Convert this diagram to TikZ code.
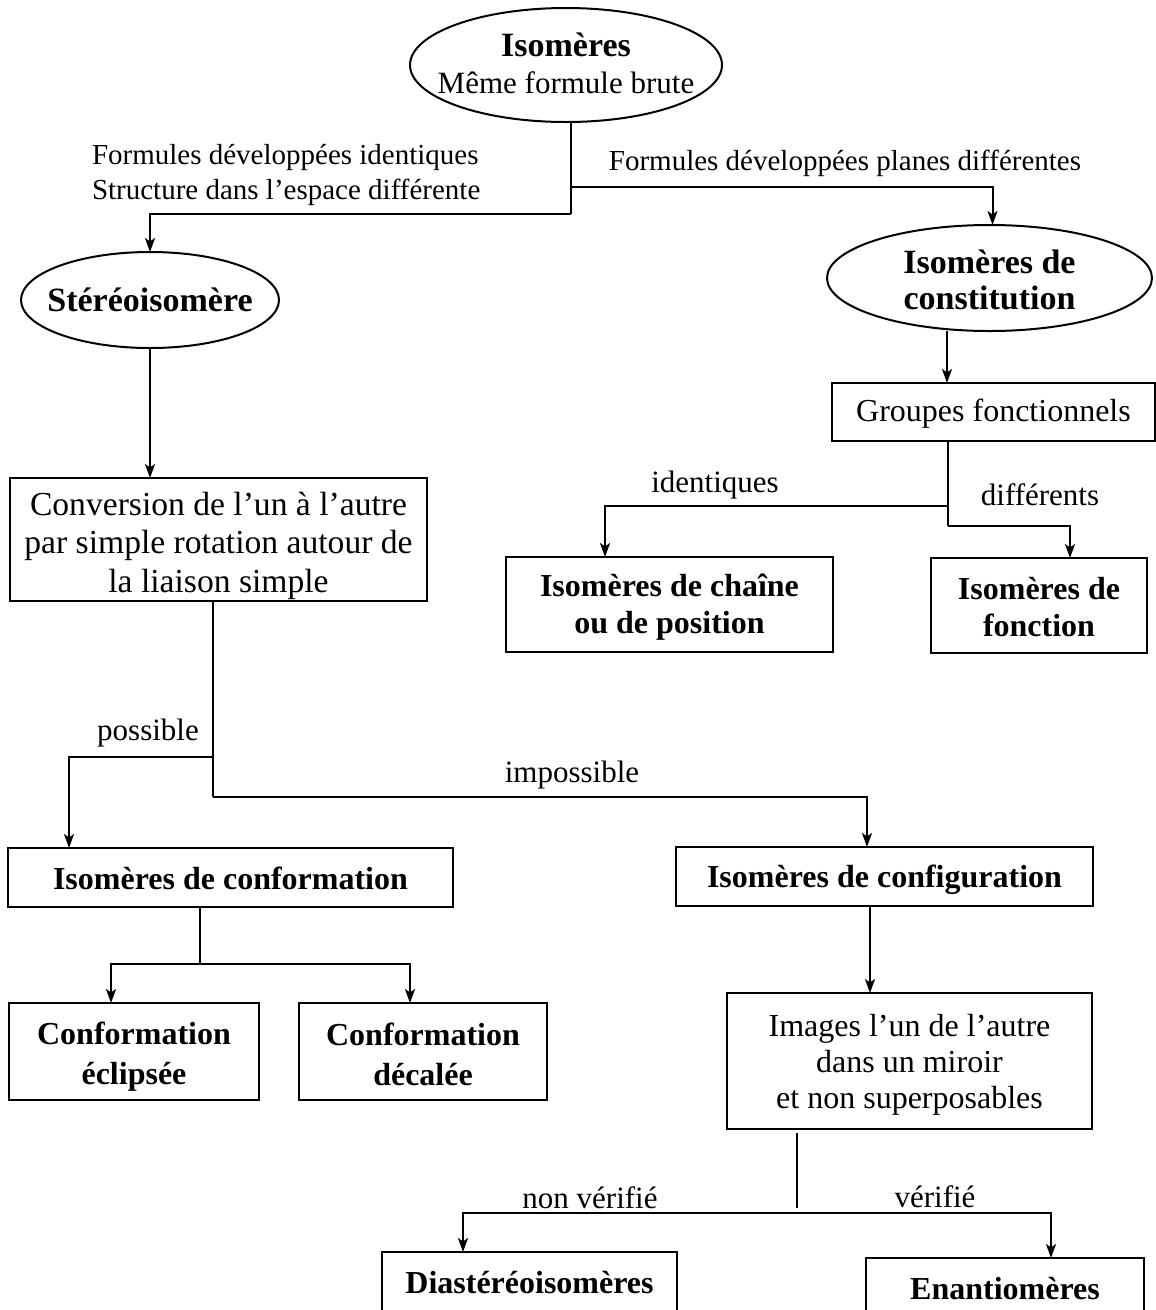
\documentclass[tikz,border=0pt]{standalone}
\usepackage{fontspec}
\setmainfont{Liberation Serif}
\usetikzlibrary{shapes.geometric,arrows.meta}
\begin{document}
\begin{tikzpicture}[x=1pt,y=-1pt,
  every node/.style={inner sep=0pt, outer sep=0pt},
  box/.style={draw, line width=2pt, rectangle},
  ell/.style={draw, line width=2pt, ellipse},
  conn/.style={line width=2pt},
  arr/.style={line width=2pt, -{Stealth[length=14pt,width=10pt,inset=3.5pt]}},
  toplab/.style={font=\fontsize{29}{35}\selectfont},
  lab/.style={font=\fontsize{31}{36}\selectfont},
  reg/.style={align=center, font=\fontsize{32}{37}\selectfont},
  bld/.style={align=center, font=\fontsize{32}{37}\selectfont\bfseries},
  ebld/.style={align=center, font=\fontsize{34}{36}\selectfont\bfseries}
]
\useasboundingbox (0,0) rectangle (1156,1310);
\clip (0,0) rectangle (1156,1310);

% ellipses
\node[ell, minimum width=312pt, minimum height=114pt] (iso) at (566,65) {};
\node[align=center, font=\fontsize{31}{37}\selectfont, yshift=2pt] (isot) at (iso.center) {{\fontsize{34}{37}\selectfont\bfseries Isomères}\\Même formule brute};
\node[ell, minimum width=258pt, minimum height=96pt] (stereo) at (150,300) {};
\node[ebld] (stereot) at (stereo.center) {Stéréoisomère};
\node[ell, minimum width=325pt, minimum height=106pt] (const) at (989.5,278) {};
\node[ebld, yshift=-2pt] (constt) at (const.center) {Isomères de\\constitution};

% boxes
\node[box, minimum width=417pt, minimum height=123pt] (conv) at (218.5,539.5) {};
\node[reg, font=\fontsize{33.6}{38.5}\selectfont, yshift=-6pt] (convt) at (conv.center) {Conversion de l’un à l’autre\\par simple rotation autour de\\la liaison simple};
\node[box, minimum width=323pt, minimum height=58pt] (gf) at (993.5,412) {};
\node[reg, yshift=-2pt] (gft) at (gf.center) {Groupes fonctionnels};
\node[box, minimum width=327pt, minimum height=95pt] (chaine) at (669.5,604.5) {};
\node[bld, yshift=-3pt] (chainet) at (chaine.center) {Isomères de chaîne\\ou de position};
\node[box, minimum width=216pt, minimum height=95pt] (fonction) at (1039,605.5) {};
\node[bld, yshift=-2pt] (fonctiont) at (fonction.center) {Isomères de\\fonction};
\node[box, minimum width=445pt, minimum height=59pt] (conform) at (230.5,877.5) {};
\node[bld, yshift=-1pt] (conformt) at (conform.center) {Isomères de conformation};
\node[box, minimum width=417pt, minimum height=59pt] (config) at (884.5,876.5) {};
\node[bld, yshift=-3pt] (configt) at (config.center) {Isomères de configuration};
\node[box, minimum width=250pt, minimum height=97pt] (eclip) at (134,1051.5) {};
\node[bld, font=\fontsize{32}{40}\selectfont\bfseries, yshift=-5pt] (eclipt) at (eclip.center) {Conformation\\éclipsée};
\node[box, minimum width=248pt, minimum height=97pt] (decal) at (423,1051.5) {};
\node[bld, font=\fontsize{32}{40}\selectfont\bfseries, yshift=-3pt] (decalt) at (decal.center) {Conformation\\décalée};
\node[box, minimum width=365pt, minimum height=136pt] (img) at (909.5,1061) {};
\node[reg, font=\fontsize{32}{36}\selectfont, yshift=-4pt] (imgt) at (img.center) {Images l’un de l’autre\\dans un miroir\\et non superposables};
\node[box, minimum width=295pt, minimum height=68pt] (dia) at (529.5,1286) {};
\node[bld] (diat) at (529.5,1283) {Diastéréoisomères};
\node[box, minimum width=278pt, minimum height=68pt] (enan) at (1005,1292) {};
\node[bld] (enant) at (1005,1289) {Enantiomères};

% junctions
\coordinate (jT) at (571,187);
\coordinate (jL) at (571,214);
\coordinate (cg) at (947,0);
\coordinate (jI) at (948,506);
\coordinate (jF) at (948,526);
\coordinate (cx) at (605,0);
\coordinate (fx) at (1070,0);
\coordinate (jP) at (213,757);
\coordinate (jQ) at (213,797);
\coordinate (px) at (69,0);
\coordinate (ix) at (867,0);
\coordinate (jC) at (200,964);
\coordinate (ex) at (111,0);
\coordinate (dx) at (410,0);
\coordinate (ix2) at (870,0);
\coordinate (jV) at (797,1213);
\coordinate (nx) at (463,0);
\coordinate (vx) at (1051,0);

% connectors
\draw[conn] (iso.south -| jT) -- (jL);
\draw[arr] (jL) -| (stereo.north);
\draw[arr] (jT) -| ([xshift=3pt]const.north);
\draw[arr] (stereo.south) -- (stereo.south |- conv.north);
\draw[arr] (const.south -| cg) -- (cg |- gf.north);
\draw[conn] (gf.south -| jF) -- (jF);
\draw[arr] (jF) -| (fx |- fonction.north);
\draw[arr] (jI) -| (cx |- chaine.north);
\draw[conn] (conv.south -| jQ) -- (jQ);
\draw[arr] (jP) -| (px |- conform.north);
\draw[arr] (jQ) -| (ix |- config.north);
\draw[conn] (conform.south -| jC) -- (jC);
\draw[arr] (jC) -| (ex |- eclip.north);
\draw[arr] (jC) -| (dx |- decal.north);
\draw[arr] (config.south -| ix2) -- (ix2 |- img.north);
\draw[conn, shorten <=4pt, shorten >=5pt] (img.south -| jV) -- (jV);
\draw[arr] (jV) -| (nx |- dia.north);
\draw[arr] (jV) -| (vx |- enan.north);

% labels
\node[toplab, align=left, anchor=west] (l1) at (92,174.5) {Formules développées identiques\\Structure dans l’espace différente};
\node[toplab] (l2) at (845,163) {Formules développées planes différentes};
\node[lab] (l3) at (715,485) {identiques};
\node[lab] (l4) at (1040,495) {différents};
\node[lab] (l5) at (148,733) {possible};
\node[lab] (l6) at (572,775) {impossible};
\node[lab] (l7) at (590,1198) {non vérifié};
\node[lab] (l8) at (935,1197) {vérifié};
\end{tikzpicture}
\end{document}
